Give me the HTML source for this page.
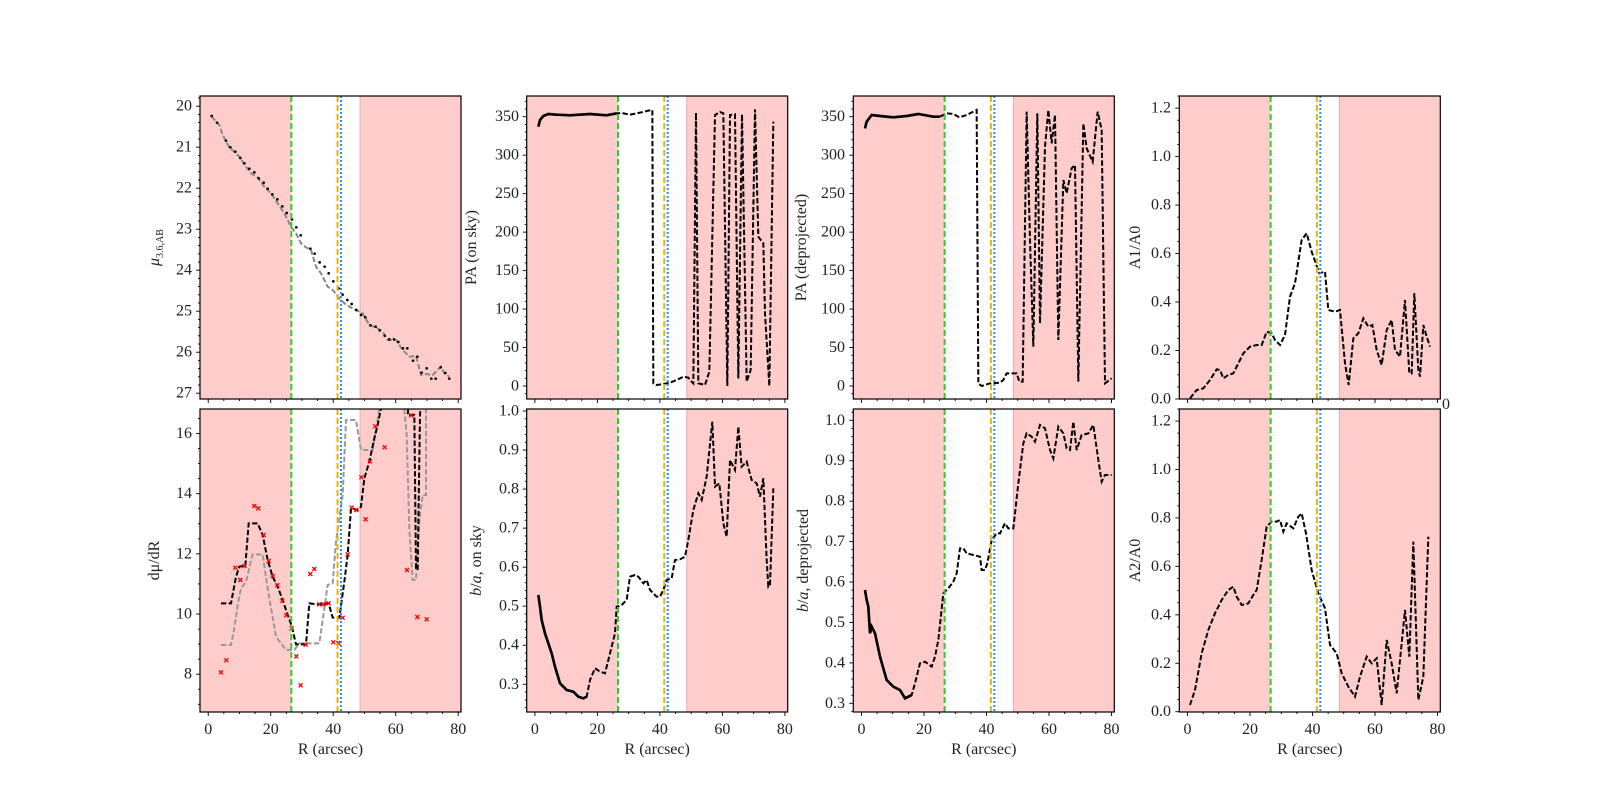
<!DOCTYPE html>
<html><head><meta charset="utf-8">
<style>
body{margin:0;background:#fff;}
svg{display:block;font-family:"Liberation Serif",serif;}
.tl{font-size:16px;fill:#222;}
</style></head>
<body>
<svg id="s" width="1600" height="800" viewBox="0 0 1600 800" xmlns="http://www.w3.org/2000/svg">
<defs>
<clipPath id="c1"><rect x="200" y="96" width="261" height="303"/></clipPath>
<clipPath id="c2"><rect x="526.7" y="96" width="261" height="303"/></clipPath>
<clipPath id="c3"><rect x="853.3" y="96" width="261" height="303"/></clipPath>
<clipPath id="c4"><rect x="1179.3" y="96" width="261" height="303"/></clipPath>
<clipPath id="c5"><rect x="200" y="409" width="261" height="303"/></clipPath>
<clipPath id="c6"><rect x="526.7" y="409" width="261" height="303"/></clipPath>
<clipPath id="c7"><rect x="853.3" y="409" width="261" height="303"/></clipPath>
<clipPath id="c8"><rect x="1179.3" y="409" width="261" height="303"/></clipPath>
</defs>
<g id="bg"></g>

<g clip-path="url(#c1)"><g transform="translate(196,90) scale(0.33333)" fill="none">
<polyline stroke="#888" stroke-width="6" stroke-dasharray="16,7" points="47,80 70,105 80,135 100,172 130,200 150,230 165,250 185,262 205,290 225,310 245,340 265,370 285,410 300,430 315,460 330,472 345,480 360,530 375,550 395,590 410,600 430,625 445,640 460,650 480,660 500,670 520,705 540,712 560,725 575,750 600,750 620,780 640,800 660,798 675,855 690,852 710,855 735,830 745,850 760,860"/>
<g id="dots" fill="#000"></g>
</g></g>

<g clip-path="url(#c2)"><g transform="translate(480,80) scale(0.33333)" fill="none">
<polyline stroke="#000" stroke-width="6" stroke-dasharray="16,7" points="175,140 180,120 190,108 205,102 230,104 270,106 330,102 380,106 410,100 425,99 450,104 480,98 505,92 517,90 520,910 530,915 550,912 570,908 590,900 610,890 625,893 635,905 640,910 648,98 655,910 675,915 688,875 705,105 720,96 730,100 742,918 750,105 765,103 775,895 786,103 800,905 812,870 825,88 835,470 850,490 855,700 868,918 880,125"/>
<polyline stroke="#000" stroke-width="8" points="175,140 180,120 190,108 205,102 230,104 270,106 330,102 380,106 410,100"/>
</g></g>

<g clip-path="url(#c3)"><g transform="translate(800,80) scale(0.33333)" fill="none">
<polyline stroke="#000" stroke-width="6" stroke-dasharray="16,7" points="195,145 200,125 215,105 240,108 280,112 320,108 355,102 400,110 420,110 440,100 460,102 478,112 500,105 530,90 535,910 545,918 570,910 600,908 610,900 620,880 650,880 658,905 668,905 680,95 690,480 700,800 712,100 720,730 735,200 745,90 755,190 765,105 775,780 790,300 800,340 815,265 825,255 835,905 850,130 860,205 878,245 893,95 905,150 915,910 935,895"/>
<polyline stroke="#000" stroke-width="8" points="195,145 200,125 215,105 240,108 280,112 320,108 355,102 400,110 420,110"/>
</g></g>

<g clip-path="url(#c4)"><g transform="translate(1120,80) scale(0.33333)" fill="none">
<polyline stroke="#000" stroke-width="6" stroke-dasharray="16,7" points="210,955 230,930 250,925 270,900 290,868 300,870 310,895 325,885 340,880 355,850 370,820 390,800 410,795 425,795 440,755 455,760 465,780 480,795 495,765 510,650 525,610 545,480 560,460 575,515 598,580 615,575 625,690 645,695 660,690 675,850 686,915 700,775 715,760 730,715 745,740 757,735 770,810 785,855 800,750 815,720 825,810 840,830 855,660 868,880 875,880 883,640 895,870 900,890 910,735 920,770 930,800"/>
</g></g>

<g clip-path="url(#c5)"><g transform="translate(196,395) scale(0.33333)" fill="none">
<polyline stroke="#999" stroke-width="6" stroke-dasharray="16,7" points="75,750 105,750 115,700 125,630 135,580 150,560 170,478 200,478 215,580 240,725 270,765 295,765 310,745 370,745 395,570 410,565 420,440 440,300 450,75 480,75 495,165 530,165 550,40 550,-50"/>
<polyline stroke="#999" stroke-width="6" stroke-dasharray="16,7" points="625,-50 625,40 632,120 640,400 650,555 660,555 670,380 680,300 690,300 690,-50"/>
<polyline stroke="#000" stroke-width="6" stroke-dasharray="16,7" points="75,625 105,625 120,545 130,515 148,512 158,385 185,385 200,420 215,495 230,545 245,575 260,615 275,660 287,692 300,748 330,748 340,625 365,628 398,625 410,668 430,668 445,560 455,480 465,340 485,345 495,335 505,250 520,200 535,130 545,90 555,40 560,-50"/>
<polyline stroke="#000" stroke-width="6" stroke-dasharray="16,7" points="645,-50 635,60 655,60 660,520 665,525 672,60 680,-50"/>
<g id="xs" stroke="#f00" stroke-width="4"></g>
</g></g>

<g clip-path="url(#c6)"><g transform="translate(480,400) scale(0.33333)" fill="none">
<polyline stroke="#000" stroke-width="6" stroke-dasharray="16,7" points="175,585 180,620 185,660 195,700 205,730 215,760 225,800 240,850 260,870 280,875 295,890 310,895 320,890 330,840 345,805 360,815 375,820 390,760 405,700 410,620 425,615 440,600 450,530 465,525 475,530 490,550 500,540 510,570 530,590 540,590 550,570 560,540 575,535 585,480 600,478 615,470 625,420 640,330 655,280 665,300 680,230 697,65 705,260 718,250 730,370 740,410 750,180 765,210 775,80 785,200 800,185 815,240 830,250 840,290 850,235 860,480 865,560 870,555 880,265"/>
<polyline stroke="#000" stroke-width="8" points="175,585 180,620 185,660 195,700 205,730 215,760 225,800 240,850 260,870 280,875 295,890 310,895 320,890"/>
</g></g>

<g clip-path="url(#c7)"><g transform="translate(800,400) scale(0.33333)" fill="none">
<polyline stroke="#000" stroke-width="6" stroke-dasharray="16,7" points="195,570 200,600 205,620 210,700 215,680 225,700 240,770 260,840 280,860 300,870 315,895 335,885 345,850 360,790 375,785 395,800 405,770 415,720 430,580 445,565 460,545 470,520 480,445 490,445 500,460 520,465 540,470 545,510 555,510 562,490 575,420 590,400 600,400 615,370 625,385 640,385 655,250 670,130 680,100 695,110 705,125 720,75 735,85 750,150 760,175 775,80 790,100 800,145 810,150 820,65 830,150 845,105 865,100 880,75 895,180 905,245 915,225 925,225 935,225"/>
<polyline stroke="#000" stroke-width="8" points="195,570 200,600 205,620 210,700 215,680 225,700 240,770 260,840 280,860 300,870 315,895 335,885"/>
</g></g>

<g clip-path="url(#c8)"><g transform="translate(1120,400) scale(0.33333)" fill="none">
<polyline stroke="#000" stroke-width="6" stroke-dasharray="16,7" points="210,915 225,870 245,760 265,690 285,640 305,600 325,570 340,560 350,590 365,615 385,610 400,585 410,570 425,480 440,380 455,365 470,365 480,360 490,395 500,370 520,385 535,350 545,340 558,400 575,510 595,580 615,625 630,735 650,760 665,820 685,860 705,890 720,830 740,770 755,790 770,775 785,915 800,720 815,790 830,880 845,730 855,630 868,770 880,425 895,900 910,830 925,410"/>
</g></g>

<g id="fr"></g>

<g class="tl" text-anchor="end" dominant-baseline="central">
<text x="192" y="106.2">20</text><text x="192" y="147.2">21</text><text x="192" y="188.2">22</text><text x="192" y="229.2">23</text><text x="192" y="270.2">24</text><text x="192" y="311.2">25</text><text x="192" y="352.2">26</text><text x="192" y="393.2">27</text>
<text x="519" y="386">0</text><text x="519" y="347.5">50</text><text x="519" y="309.1">100</text><text x="519" y="270.6">150</text><text x="519" y="232.1">200</text><text x="519" y="193.6">250</text><text x="519" y="155.2">300</text><text x="519" y="116.7">350</text>
<text x="845" y="386">0</text><text x="845" y="347.5">50</text><text x="845" y="309.1">100</text><text x="845" y="270.6">150</text><text x="845" y="232.1">200</text><text x="845" y="193.6">250</text><text x="845" y="155.2">300</text><text x="845" y="116.7">350</text>
<text x="1171" y="399">0.0</text><text x="1171" y="350.5">0.2</text><text x="1171" y="302">0.4</text><text x="1171" y="253.6">0.6</text><text x="1171" y="205.1">0.8</text><text x="1171" y="156.6">1.0</text><text x="1171" y="108.1">1.2</text>
<text x="192" y="674.2">8</text><text x="192" y="614">10</text><text x="192" y="553.8">12</text><text x="192" y="493.7">14</text><text x="192" y="433.5">16</text>
<text x="519" y="411">1.0</text><text x="519" y="450">0.9</text><text x="519" y="489.1">0.8</text><text x="519" y="528.1">0.7</text><text x="519" y="567.2">0.6</text><text x="519" y="606.2">0.5</text><text x="519" y="645.2">0.4</text><text x="519" y="684.3">0.3</text>
<text x="845" y="420.3">1.0</text><text x="845" y="460.7">0.9</text><text x="845" y="501.2">0.8</text><text x="845" y="541.6">0.7</text><text x="845" y="582">0.6</text><text x="845" y="622.5">0.5</text><text x="845" y="662.9">0.4</text><text x="845" y="703.3">0.3</text>
<text x="1171" y="711.7">0.0</text><text x="1171" y="663.3">0.2</text><text x="1171" y="614.8">0.4</text><text x="1171" y="566.4">0.6</text><text x="1171" y="518">0.8</text><text x="1171" y="469.5">1.0</text><text x="1171" y="421.1">1.2</text>
</g>
<g class="tl" text-anchor="middle">
<text x="208.2" y="734">0</text><text x="270.7" y="734">20</text><text x="333.2" y="734">40</text><text x="395.7" y="734">60</text><text x="458.2" y="734">80</text>
<text x="534.9" y="734">0</text><text x="597.4" y="734">20</text><text x="659.9" y="734">40</text><text x="722.4" y="734">60</text><text x="784.9" y="734">80</text>
<text x="861.5" y="734">0</text><text x="924" y="734">20</text><text x="986.5" y="734">40</text><text x="1049" y="734">60</text><text x="1111.5" y="734">80</text>
<text x="1187.5" y="734">0</text><text x="1250" y="734">20</text><text x="1312.5" y="734">40</text><text x="1375" y="734">60</text><text x="1437.5" y="734">80</text>
<text x="330.5" y="754">R (arcsec)</text><text x="657.2" y="754">R (arcsec)</text><text x="983.8" y="754">R (arcsec)</text><text x="1309.8" y="754">R (arcsec)</text>
<text x="1446" y="409">0</text>
</g>
<g class="tl" text-anchor="middle">
<text transform="translate(159,247.5) rotate(-90)"><tspan font-style="italic">μ</tspan><tspan font-size="10" dy="4">3.6,AB</tspan></text>
<text transform="translate(476,247.5) rotate(-90)">PA (on sky)</text>
<text transform="translate(806,247.5) rotate(-90)">PA (deprojected)</text>
<text transform="translate(1140,247.5) rotate(-90)">A1/A0</text>
<text transform="translate(159,560.5) rotate(-90)">dμ/dR</text>
<text transform="translate(481,560.5) rotate(-90)"><tspan font-style="italic">b</tspan>/<tspan font-style="italic">a</tspan>, on sky</text>
<text transform="translate(808,560.5) rotate(-90)"><tspan font-style="italic">b</tspan>/<tspan font-style="italic">a</tspan>, deprojected</text>
<text transform="translate(1140,560.5) rotate(-90)">A2/A0</text>
</g>
</svg>
<script>
(function(){
var NS="http://www.w3.org/2000/svg";
function el(p,t,a){var e=document.createElementNS(NS,t);for(var k in a)e.setAttribute(k,a[k]);p.appendChild(e);return e;}
var bg=document.getElementById('bg'),fr=document.getElementById('fr');
var lefts=[200,526.7,853.3,1179.3],tops=[96,409],W=261,H=303;
var ys=[
 [19.8,27.15,0.2,function(v){return 106.2+41*(v-20);}],
 [-10,380,10,function(v){return 386-0.7694*v;}],
 [-10,380,10,function(v){return 386-0.7694*v;}],
 [0,1.25,0.05,function(v){return 399-242.4*v;}],
 [7,16.8,0.5,function(v){return 674.2-30.09*(v-8);}],
 [0.22,1.01,0.02,function(v){return 411+(1-v)*390.4;}],
 [0.28,1.03,0.02,function(v){return 420.3+(1-v)*404.3;}],
 [0,1.25,0.05,function(v){return 711.7-242.2*v;}]];
var majors=[1,50,50,0.2,2,0.1,0.1,0.2];
for(var r=0;r<2;r++)for(var c=0;c<4;c++){
 var L=lefts[c],T=tops[r],i=r*4+c;
 var x0=L+8.2;
 el(bg,'rect',{x:L,y:T,width:x0+3.125*26.6-L,height:H,fill:'#ffcccc'});
 el(bg,'rect',{x:x0+3.125*48.6,y:T,width:L+W-(x0+3.125*48.6),height:H,fill:'#ffcccc'});
 el(bg,'line',{x1:x0+3.125*48.6,x2:x0+3.125*48.6,y1:T,y2:T+H,stroke:'#f4a8a8','stroke-width':1});
 el(fr,'line',{x1:x0+3.125*26.6,x2:x0+3.125*26.6,y1:T,y2:T+H,stroke:'#2ecc2e','stroke-width':2,'stroke-dasharray':'6,3'});
 el(fr,'line',{x1:x0+3.125*41.4,x2:x0+3.125*41.4,y1:T,y2:T+H,stroke:'#e8b400','stroke-width':2,'stroke-dasharray':'6,3'});
 el(fr,'line',{x1:x0+3.125*42.5,x2:x0+3.125*42.5,y1:T,y2:T+H,stroke:'#2a8cff','stroke-width':2,'stroke-dasharray':'2,2'});
 el(fr,'rect',{x:L,y:T,width:W,height:H,fill:'none',stroke:'#000','stroke-width':1.2});
 for(var R=0;R<=80;R+=5){var x=x0+3.125*R,len=(R%20==0)?4:2;
  el(fr,'line',{x1:x,x2:x,y1:T+H,y2:T+H+len,stroke:'#000','stroke-width':0.9});}
 var s=ys[i],m=majors[i];
 for(var v=s[0];v<=s[1]+1e-9;v+=s[2]){var y=s[3](v);if(y<T-0.5||y>T+H+0.5)continue;
  var q=v/m,isM=Math.abs(q-Math.round(q))<1e-6;
  el(fr,'line',{x1:L,x2:L-(isM?4:2),y1:y,y2:y,stroke:'#000','stroke-width':0.9});}
}
var dots=[[47,78],[63,98],[90,152],[103,172],[118,185],[133,204],[145,220],[160,236],[175,247],[188,265],[203,278],[215,296],[229,313],[244,328],[259,349],[272,369],[288,388],[301,412],[314,436],[343,476],[356,491],[371,517],[386,530],[398,550],[412,574],[428,595],[440,614],[454,630],[467,642],[481,660],[495,675],[508,682],[523,706],[539,710],[551,721],[566,737],[580,748],[594,748],[607,756],[621,775],[634,775],[651,812],[664,800],[677,848],[692,835],[706,866],[719,866],[734,832],[748,849],[760,866]];
var dg=document.getElementById('dots');
dots.forEach(function(p){el(dg,'circle',{cx:p[0],cy:p[1],r:4});});
var xs=[[75,832],[91,796],[118,518],[133,555],[145,513],[175,333],[187,340],[203,420],[218,498],[230,543],[244,571],[259,617],[271,661],[287,700],[301,784],[314,871],[329,749],[343,537],[355,522],[370,628],[383,628],[398,625],[412,742],[427,744],[440,668],[455,478],[467,338],[481,345],[496,247],[509,373],[522,199],[538,94],[566,157],[633,525],[646,61],[664,666],[692,673]];
var xg=document.getElementById('xs');
xs.forEach(function(p){var a=6;el(xg,'path',{d:'M'+(p[0]-a)+','+(p[1]-a)+'L'+(p[0]+a)+','+(p[1]+a)+'M'+(p[0]-a)+','+(p[1]+a)+'L'+(p[0]+a)+','+(p[1]-a)});});
})();
</script>
</body></html>
